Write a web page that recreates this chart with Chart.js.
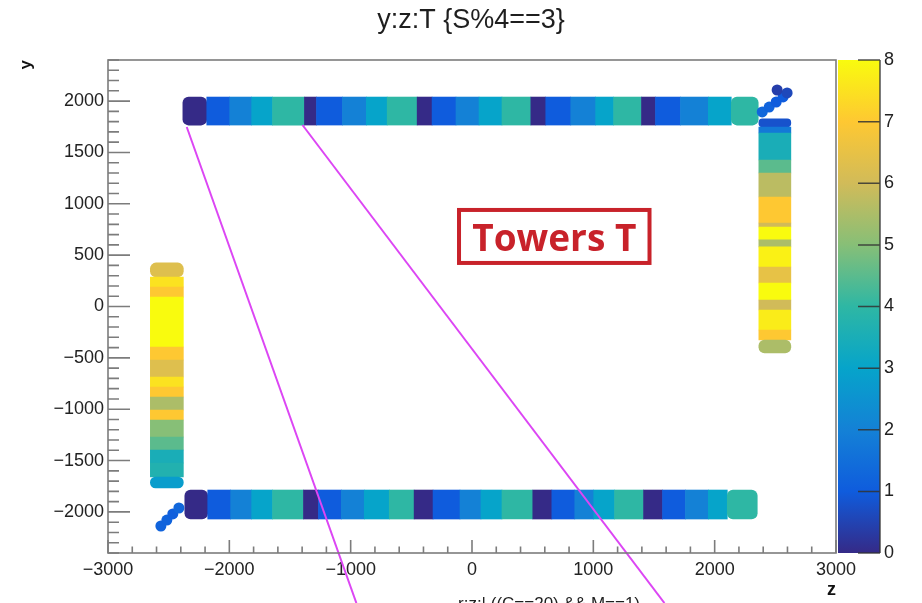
<!DOCTYPE html>
<html>
<head>
<meta charset="utf-8">
<title>y:z:T {S%4==3}</title>
<script src="https://cdn.jsdelivr.net/npm/chart.js@4.4.0/dist/chart.umd.min.js"></script>
<style>
  html, body { margin: 0; padding: 0; background: #fff; }
  #wrap { width: 922px; height: 603px; overflow: hidden; }
</style>
</head>
<body>
<div id="wrap"><canvas id="chart" width="922" height="603"></canvas></div>
<script>
// axis ticks
const zTicks = [-3000, -2000, -1000, 0, 1000, 2000, 3000];
const yTicks = [-2000, -1500, -1000, -500, 0, 500, 1000, 1500, 2000];
const tTicks = [0, 1, 2, 3, 4, 5, 6, 7, 8];

// upper barrel row: block edges along z, tower value T per block
const topRowY = 1903;
const topEdges = [-2383, -2186, -1997, -1816, -1644, -1381, -1282, -1068, -871, -699, -452, -329, -132, 58, 247,
                  485, 608, 814, 1019, 1167, 1397, 1512, 1718, 1948, 2137, 2359];
const topT = [0, 1, 2, 3, 4, 0, 1, 2, 3, 4, 0, 1, 2, 3, 4, 0, 1, 2, 3, 4, 0, 1, 2, 3, 4];

// lower barrel row
const bottomRowY = -1928;
const bottomEdges = [-2367, -2178, -1989, -1816, -1644, -1389, -1266, -1077, -888, -682, -477, -321, -99, 74, 247,
                     501, 658, 847, 1003, 1175, 1414, 1570, 1759, 1948, 2104, 2351];
const bottomT = [0, 1, 2, 3, 4, 0, 1, 2, 3, 4, 0, 1, 2, 3, 4, 0, 1, 2, 3, 4, 0, 1, 2, 3, 4];

// end-cap columns: edges along y (top to bottom), T per band
const leftColZ = -2515;
const leftEdges = [424, 287, 190, 92, -394, -521, -686, -784, -881, -1008, -1105, -1271, -1397, -1524, -1660, -1767];
const leftT = [6.3, 7.5, 7, 8, 7, 6.3, 7.5, 7, 5.5, 7, 5, 4.5, 3.5, 3.7, 2.8];

const rightColZ = 2496;
const rightEdges = [1826, 1748, 1689, 1426, 1300, 1066, 813, 774, 648, 580, 385, 229, 63, -34, -229, -326, -453];
const rightT = [0.8, 1.8, 3.5, 4.5, 5.7, 7, 6, 8, 5.5, 7.8, 6.5, 8, 6, 7.7, 7, 5.5];

// small corner hits
const cornerZ = [2392, 2449, 2507, 2564, 2597, 2515, -2564, -2515, -2466, -2416];
const cornerY = [1894, 1942, 1991, 2040, 2079, 2108, -2137, -2079, -2020, -1962];
const cornerT = [1.3, 1.2, 1.0, 1.0, 0.6, 0.4, 1.2, 1.2, 1.1, 1.3];

// magenta tracks
const trackAZ = [-2351, -953];
const trackAY = [1748, -2887];
const trackBZ = [-1397, 1586];
const trackBY = [1767, -2887];

// ROOT kBird palette
const birdStops = [0.0, 0.125, 0.25, 0.375, 0.5, 0.625, 0.75, 0.875, 1.0];
const birdR = [0.2082, 0.0592, 0.0780, 0.0232, 0.1802, 0.5301, 0.8186, 0.9956, 0.9764];
const birdG = [0.1664, 0.3599, 0.5041, 0.6419, 0.7178, 0.7492, 0.7328, 0.7862, 0.9832];
const birdB = [0.5293, 0.8684, 0.8385, 0.7914, 0.6425, 0.4662, 0.3499, 0.1968, 0.0539];

const T_MAX = 8;
const FONT = "'Liberation Sans', Arial, Helvetica, sans-serif";

function birdColor(t) {
    const f = Math.min(Math.max(t / T_MAX, 0), 1);
    let i = 0;
    while (i < birdStops.length - 2 && f > birdStops[i + 1]) i++;
    const u = (f - birdStops[i]) / (birdStops[i + 1] - birdStops[i]);
    const c = (k) => Math.round(255 * (k[i] + u * (k[i + 1] - k[i])));
    return `rgb(${c(birdR)}, ${c(birdG)}, ${c(birdB)})`;
}

// floating bars between consecutive edges
const rowBlocks = (edges, rowY) => edges.slice(1).map((e, i) => ({ y: rowY, x: [edges[i], e] }));
const colBlocks = (edges, colZ) => edges.slice(1).map((e, i) => ({ x: colZ, y: [e, edges[i]] }));
const toPoints = (zs, ys) => zs.map((z, i) => ({ x: z, y: ys[i] }));

const minus = (v) => String(v).replace('-', '\u2212');

// frame, inside ticks, colour bar and free texts
const rootStyle = {
    id: 'rootStyle',
    afterDraw(chart) {
        const { ctx, chartArea: a, scales } = chart;
        const xs = scales.x, ys = scales.y, cs = scales.c;
        ctx.save();

        // colour bar
        const y0 = cs.getPixelForValue(0), y1 = cs.getPixelForValue(T_MAX);
        const grad = ctx.createLinearGradient(0, y0, 0, y1);
        birdStops.forEach((s) => grad.addColorStop(s, birdColor(s * T_MAX)));
        ctx.fillStyle = grad;
        ctx.fillRect(a.right + 2, y1, 42, y0 - y1);
        ctx.strokeStyle = 'rgba(50,50,50,0.85)';
        ctx.lineWidth = 1.5;
        ctx.beginPath();
        tTicks.forEach((t) => {
            const py = cs.getPixelForValue(t);
            ctx.moveTo(a.right + 22, py);
            ctx.lineTo(a.right + 44, py);
        });
        ctx.moveTo(a.right + 44, y1);
        ctx.lineTo(a.right + 44, y0);
        ctx.stroke();

        // frame
        ctx.strokeStyle = '#7c7c7c';
        ctx.lineWidth = 1.6;
        ctx.strokeRect(a.left, a.top, a.right - a.left, a.bottom - a.top);

        // ticks on the inside
        ctx.beginPath();
        for (let v = xs.min; v <= xs.max; v += 200) {
            const px = xs.getPixelForValue(v);
            const len = v % 1000 === 0 ? 13 : 6.5;
            ctx.moveTo(px, a.bottom);
            ctx.lineTo(px, a.bottom - len);
        }
        for (let v = ys.min; v <= ys.max; v += 100) {
            const py = ys.getPixelForValue(v);
            const len = v % 500 === 0 ? 22 : 11;
            ctx.moveTo(a.left, py);
            ctx.lineTo(a.left + len, py);
        }
        ctx.stroke();

        // title
        ctx.fillStyle = '#1e1e1e';
        ctx.font = `27px ${FONT}`;
        ctx.textAlign = 'center';
        ctx.textBaseline = 'alphabetic';
        ctx.fillText('y:z:T {S%4==3}', 471, 28);

        // cut-off text below the axis
        ctx.font = `17px ${FONT}`;
        ctx.textAlign = 'left';
        ctx.fillText('r:z:| ((C==20) && M==1)', 458, 609);

        // label box
        const bx0 = xs.getPixelForValue(-107), bx1 = xs.getPixelForValue(1463);
        const by0 = ys.getPixelForValue(940), by1 = ys.getPixelForValue(424);
        ctx.strokeStyle = '#c8222a';
        ctx.lineWidth = 4;
        ctx.strokeRect(bx0, by0, bx1 - bx0, by1 - by0);
        ctx.fillStyle = '#c8222a';
        ctx.font = "bold 37px 'Open Sans', sans-serif";
        ctx.textAlign = 'center';
        ctx.fillText('Towers T', (bx0 + bx1) / 2, by0 + 41);
        ctx.restore();
    }
};

// rounded only at the two ends of a row or column
const endRadius = (ctx) => {
    const n = ctx.dataset.data.length;
    return (ctx.dataIndex === 0 || ctx.dataIndex === n - 1) ? 6 : 0;
};

const blockStyle = {
    type: 'bar',
    grouped: false,
    borderRadius: endRadius,
    borderSkipped: false,
    borderWidth: 0,
    xAxisID: 'x',
    yAxisID: 'y'
};

const trackStyle = {
    type: 'line',
    borderColor: '#dc46f4',
    borderWidth: 2,
    pointRadius: 0,
    fill: false,
    clip: false,
    xAxisID: 'x',
    yAxisID: 'y'
};

// vertical axes must not push the plot frame up with label padding
const noEdgePadding = (width) => (s) => {
    s.width = width;
    s.paddingTop = 0;
    s.paddingBottom = 0;
};

new Chart(document.getElementById('chart'), {
    type: 'scatter',
    data: {
        datasets: [
            { ...trackStyle, data: toPoints(trackAZ, trackAY) },
            { ...trackStyle, data: toPoints(trackBZ, trackBY) },
            {
                type: 'scatter', xAxisID: 'x', yAxisID: 'y',
                data: toPoints(cornerZ, cornerY),
                pointRadius: 5.5, borderWidth: 0,
                pointBackgroundColor: cornerT.map(birdColor)
            },
            { ...blockStyle, indexAxis: 'y', barThickness: 28, data: rowBlocks(topEdges, topRowY), backgroundColor: topT.map(birdColor) },
            { ...blockStyle, indexAxis: 'y', barThickness: 29, data: rowBlocks(bottomEdges, bottomRowY), backgroundColor: bottomT.map(birdColor) },
            { ...blockStyle, indexAxis: 'x', barThickness: 33, data: colBlocks(leftEdges, leftColZ), backgroundColor: leftT.map(birdColor) },
            { ...blockStyle, indexAxis: 'x', barThickness: 32, data: colBlocks(rightEdges, rightColZ), backgroundColor: rightT.map(birdColor) }
        ]
    },
    options: {
        responsive: false,
        animation: false,
        events: [],
        devicePixelRatio: 1,
        layout: { autoPadding: false, padding: { top: 60, left: 0, right: 0, bottom: 0 } },
        plugins: { legend: { display: false }, tooltip: { enabled: false }, title: { display: false } },
        scales: {
            x: {
                type: 'linear', position: 'bottom', min: -3000, max: 3000, offset: false,
                afterBuildTicks: (s) => { s.ticks = zTicks.map((v) => ({ value: v })); },
                afterFit: (s) => { s.height = 50; },
                grid: { display: false, drawTicks: false, offset: false },
                border: { display: false },
                ticks: { padding: 6, color: '#222', font: { family: FONT, size: 18 }, callback: minus, maxRotation: 0, autoSkip: false },
                title: { display: true, text: 'z', align: 'end', color: '#111', font: { family: FONT, size: 18, weight: 'bold' }, padding: { top: 0, bottom: 2 } }
            },
            y: {
                type: 'linear', position: 'left', min: -2400, max: 2400, offset: false,
                afterBuildTicks: (s) => { s.ticks = yTicks.map((v) => ({ value: v })); },
                afterFit: noEdgePadding(108),
                grid: { display: false, drawTicks: false, offset: false },
                border: { display: false },
                ticks: { padding: 4, color: '#222', font: { family: FONT, size: 18 }, callback: minus, autoSkip: false },
                title: { display: true, text: 'y', align: 'end', color: '#111', font: { family: FONT, size: 17, weight: 'bold' }, padding: { top: 16, bottom: 0 } }
            },
            c: {
                type: 'linear', position: 'right', min: 0, max: T_MAX,
                afterBuildTicks: (s) => { s.ticks = tTicks.map((v) => ({ value: v })); },
                afterFit: noEdgePadding(86),
                grid: { display: false, drawTicks: false },
                border: { display: false },
                ticks: { padding: 48, color: '#222', font: { family: FONT, size: 18 }, autoSkip: false }
            }
        }
    },
    plugins: [rootStyle]
});
</script>
</body>
</html>
